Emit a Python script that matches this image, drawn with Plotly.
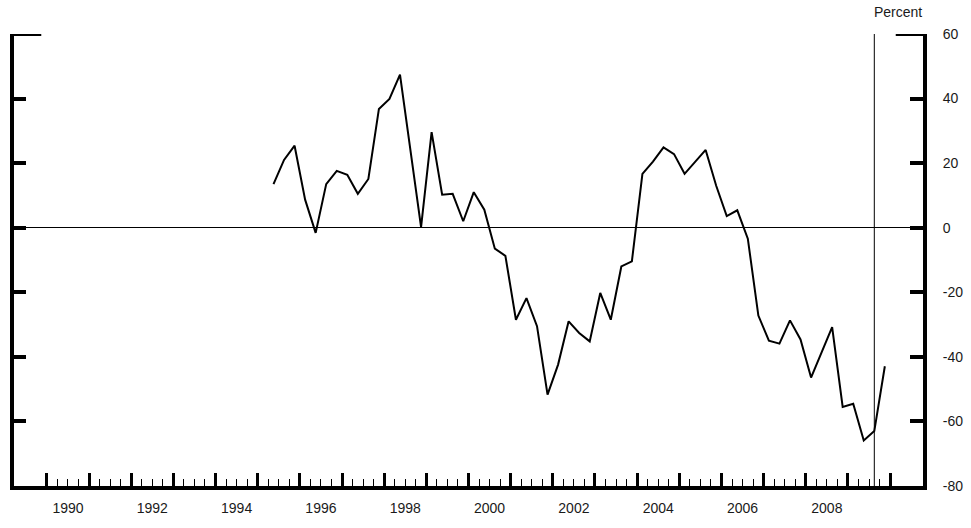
"""
Quarterly percent change, 1995Q2 - 2009Q4
"""

import plotly.graph_objects as go

# ==========================================================
# Data
# ==========================================================

first_year = 1995
first_quarter = 2

values = [
    13.5, 21.0, 25.4, 8.7, -1.6, 13.5, 17.6, 16.4, 10.5, 15.1,
    36.8, 39.9, 47.4, 24.0, 0.2, 29.6, 10.2, 10.5, 2.0, 11.0,
    5.6, -6.5, -8.7, -28.5, -21.8, -30.5, -51.7, -42.4, -29.0, -32.6,
    -35.2, -20.2, -28.5, -12.0, -10.4, 16.7, 20.5, 24.9, 22.8, 16.7,
    20.4, 24.1, 13.0, 3.6, 5.4, -3.4, -27.2, -35.0, -35.9, -28.7,
    -34.6, -46.4, -38.6, -30.8, -55.5, -54.5, -65.9, -63.0, -42.9,
]

label_years = [1990, 1992, 1994, 1996, 1998, 2000, 2002, 2004, 2006, 2008]
tick_years = list(range(1990, 2011))
y_ticks = [-80, -60, -40, -20, 0, 20, 40, 60]

marker_year = 2009
marker_quarter = 3

# ==========================================================
# Helpers
# ==========================================================

def quarter_mid(year, quarter):

    return year + (quarter - 0.5) / 4


quarters = []
year, quarter = first_year, first_quarter
for _ in values:
    quarters.append(quarter_mid(year, quarter))
    quarter += 1
    if quarter > 4:
        quarter = 1
        year += 1

minor_ticks = [
    y + q / 4
    for y in tick_years[:-1]
    for q in (1, 2, 3)
]

x_range = [1989.22, 2010.78]
y_range = [-80, 60]

font = dict(family="Liberation Sans, Arial, sans-serif", size=14, color="#1a1a1a")

# ==========================================================
# Figure
# ==========================================================

fig = go.Figure()

fig.add_trace(

    go.Scatter(

        x=quarters,

        y=values,

        mode="lines",

        line=dict(color="black", width=2),

        showlegend=False

    )

)

# invisible copy so the label axes (x2 / y2) get drawn
fig.add_trace(

    go.Scatter(

        x=quarters,

        y=values,

        xaxis="x2",

        yaxis="y2",

        mode="lines",

        line=dict(color="rgba(0,0,0,0)", width=0),

        hoverinfo="skip",

        showlegend=False

    )

)

fig.add_vline(
    x=quarter_mid(marker_year, marker_quarter),
    line=dict(color="black", width=1),
)

# longer tick marks at the top of both axes
for x0, x1 in ((0, 0.03), (0.97, 1)):
    fig.add_shape(
        type="line",
        xref="paper",
        yref="y",
        x0=x0,
        x1=x1,
        y0=y_range[1],
        y1=y_range[1],
        line=dict(color="black", width=4),
    )

fig.add_annotation(
    text="Percent",
    xref="paper",
    yref="paper",
    x=0.9725,
    y=1.049,
    xanchor="center",
    yanchor="middle",
    showarrow=False,
    font=font,
)

fig.update_layout(

    width=971,

    height=528,

    margin=dict(l=14, r=48, t=34, b=42, autoexpand=False),

    paper_bgcolor="white",

    plot_bgcolor="white",

    font=font,

    xaxis=dict(
        range=x_range,
        automargin=False,
        showgrid=False,
        zeroline=False,
        showline=True,
        linecolor="black",
        linewidth=4,
        ticks="inside",
        tickvals=tick_years,
        ticklen=13,
        tickwidth=3,
        tickcolor="black",
        showticklabels=False,
        minor=dict(
            tickvals=minor_ticks,
            ticks="inside",
            ticklen=7,
            tickwidth=1,
            tickcolor="black",
            showgrid=False,
        ),
    ),

    xaxis2=dict(
        overlaying="x",
        side="bottom",
        anchor="y2",
        range=x_range,
        automargin=False,
        showgrid=False,
        zeroline=False,
        showline=False,
        ticks="",
        tickvals=[y + 0.5 for y in label_years],
        ticktext=[str(y) for y in label_years],
        ticklabelstandoff=12,
    ),

    yaxis=dict(
        range=y_range,
        automargin=False,
        showgrid=False,
        zeroline=True,
        zerolinecolor="black",
        zerolinewidth=1,
        showline=True,
        linecolor="black",
        linewidth=4,
        ticks="inside",
        tickvals=y_ticks,
        ticklen=12,
        tickwidth=4,
        tickcolor="black",
        showticklabels=False,
    ),

    yaxis2=dict(
        overlaying="y",
        side="right",
        anchor="x2",
        range=y_range,
        automargin=False,
        showgrid=False,
        zeroline=False,
        showline=True,
        linecolor="black",
        linewidth=4,
        ticks="inside",
        tickvals=y_ticks,
        ticktext=[str(v) for v in y_ticks],
        ticklen=13,
        tickwidth=4,
        tickcolor="black",
        ticklabelstandoff=13,
    ),

)

# drop the default 8px page margin so the figure sits at the window corner
fig.write_html(
    "out.html",
    config={"displayModeBar": False},
    post_script="document.body.style.margin = '0';",
)
